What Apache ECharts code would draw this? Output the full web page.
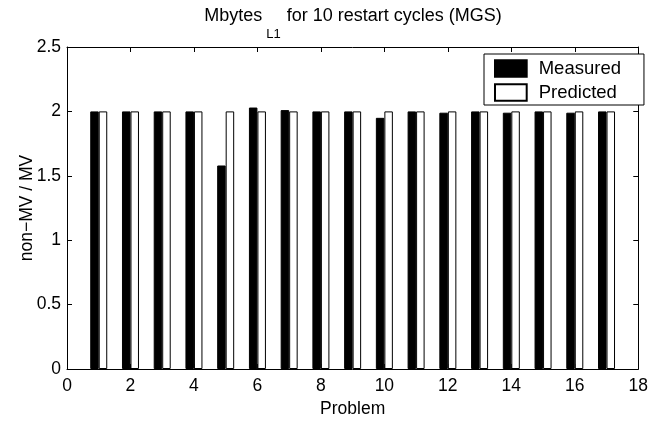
<!DOCTYPE html>
<html>
<head>
<meta charset="utf-8">
<script src="https://cdn.jsdelivr.net/npm/echarts@6/dist/echarts.min.js"></script>
<style>
  html, body { margin: 0; padding: 0; background: #fff; }
  #chart { width: 651px; height: 423px; }
</style>
</head>
<body>
<div id="chart"></div>
<script>
// Problem numbers and the two ratios per problem
const problems  = [1, 2, 3, 4, 5, 6, 7, 8, 9, 10, 11, 12, 13, 14, 15, 16, 17];
const measured  = [2.00, 2.00, 2.00, 2.00, 1.58, 2.03, 2.01, 2.00, 2.00, 1.95, 2.00, 1.99, 2.00, 1.99, 2.00, 1.99, 2.00];
const predicted = [2.00, 2.00, 2.00, 2.00, 2.00, 2.00, 2.00, 2.00, 2.00, 2.00, 2.00, 2.00, 2.00, 2.00, 2.00, 2.00, 2.00];

// Axis tick values
const xTicks = [0, 2, 4, 6, 8, 10, 12, 14, 16, 18];
const yTicks = [0, 0.5, 1, 1.5, 2, 2.5];

const FONT = "'Liberation Sans', Arial, Helvetica, sans-serif";
const LABEL_SIZE = 17.5;

const xRange = { min: xTicks[0], max: xTicks[xTicks.length - 1], interval: xTicks[1] - xTicks[0] };
const yRange = { min: yTicks[0], max: yTicks[yTicks.length - 1], interval: yTicks[1] - yTicks[0] };

const line = { show: true, onZero: false, lineStyle: { color: '#000', width: 1 } };
const tick = { show: true, inside: true, length: 5, lineStyle: { color: '#000', width: 1 } };
const label = { color: '#000', fontFamily: FONT, fontSize: LABEL_SIZE };

const chart = echarts.init(document.getElementById('chart'), null, { renderer: 'canvas' });

chart.setOption({
  animation: false,
  backgroundColor: '#fff',
  textStyle: { fontFamily: FONT },
  title: {
    text: '{m|Mbytes}{s|L1}{m| for 10 restart cycles (MGS)}',
    left: 353,
    textAlign: 'center',
    top: 7,
    padding: 0,
    textStyle: {
      fontWeight: 'normal',
      fontFamily: FONT,
      fontSize: 18,
      rich: {
        m: { fontFamily: FONT, fontWeight: 'normal', fontSize: 18, color: '#000', lineHeight: 20, verticalAlign: 'top' },
        s: { fontFamily: FONT, fontWeight: 'normal', fontSize: 13, color: '#000', lineHeight: 15, verticalAlign: 'top', padding: [21, 1, 0, 4] }
      }
    }
  },
  legend: {
    orient: 'vertical',
    left: 484,
    top: 54,
    padding: [5, 23, 3, 10],
    itemWidth: 31.7,
    itemHeight: 16.7,
    itemGap: 5,
    icon: 'rect',
    borderColor: '#000',
    borderWidth: 1,
    backgroundColor: '#fff',
    textStyle: { color: '#000', fontFamily: FONT, fontSize: 18.5, lineHeight: 16.7, padding: [0, 0, 0, 7] },
    data: ['Measured', 'Predicted']
  },
  grid: { left: 67, right: 12.3, top: 47, bottom: 52.3, containLabel: false },
  xAxis: [
    {
      type: 'value', position: 'bottom', ...xRange,
      name: 'Problem', nameLocation: 'middle', nameGap: 31, nameMoveOverlap: false,
      nameTextStyle: { color: '#000', fontFamily: FONT, fontSize: LABEL_SIZE },
      axisLine: line, axisTick: tick,
      axisLabel: { ...label, margin: 8 },
      splitLine: { show: false }
    },
    {
      type: 'value', position: 'top', ...xRange,
      axisLine: line, axisTick: tick,
      axisLabel: { show: false },
      splitLine: { show: false }
    }
  ],
  yAxis: [
    {
      type: 'value', position: 'left', ...yRange,
      name: 'non\u2212MV / MV', nameLocation: 'middle', nameGap: 31, nameMoveOverlap: false,
      nameTextStyle: { color: '#000', fontFamily: FONT, fontSize: LABEL_SIZE },
      axisLine: line, axisTick: tick,
      axisLabel: { ...label, margin: 6 },
      splitLine: { show: false }
    },
    {
      type: 'value', position: 'right', ...yRange,
      axisLine: line, axisTick: tick,
      axisLabel: { show: false },
      splitLine: { show: false }
    }
  ],
  series: [
    {
      name: 'Measured',
      type: 'bar',
      xAxisIndex: 0, yAxisIndex: 0,
      barWidth: 8.5,
      barGap: '0%',
      itemStyle: { color: '#000', borderColor: '#000', borderWidth: 1 },
      data: problems.map((p, i) => [p, measured[i]])
    },
    {
      name: 'Predicted',
      type: 'bar',
      xAxisIndex: 0, yAxisIndex: 0,
      barWidth: 8.5,
      barGap: '0%',
      itemStyle: { color: '#fff', borderColor: '#000', borderWidth: 1 },
      data: problems.map((p, i) => [p, predicted[i]])
    }
  ]
});
</script>
</body>
</html>
